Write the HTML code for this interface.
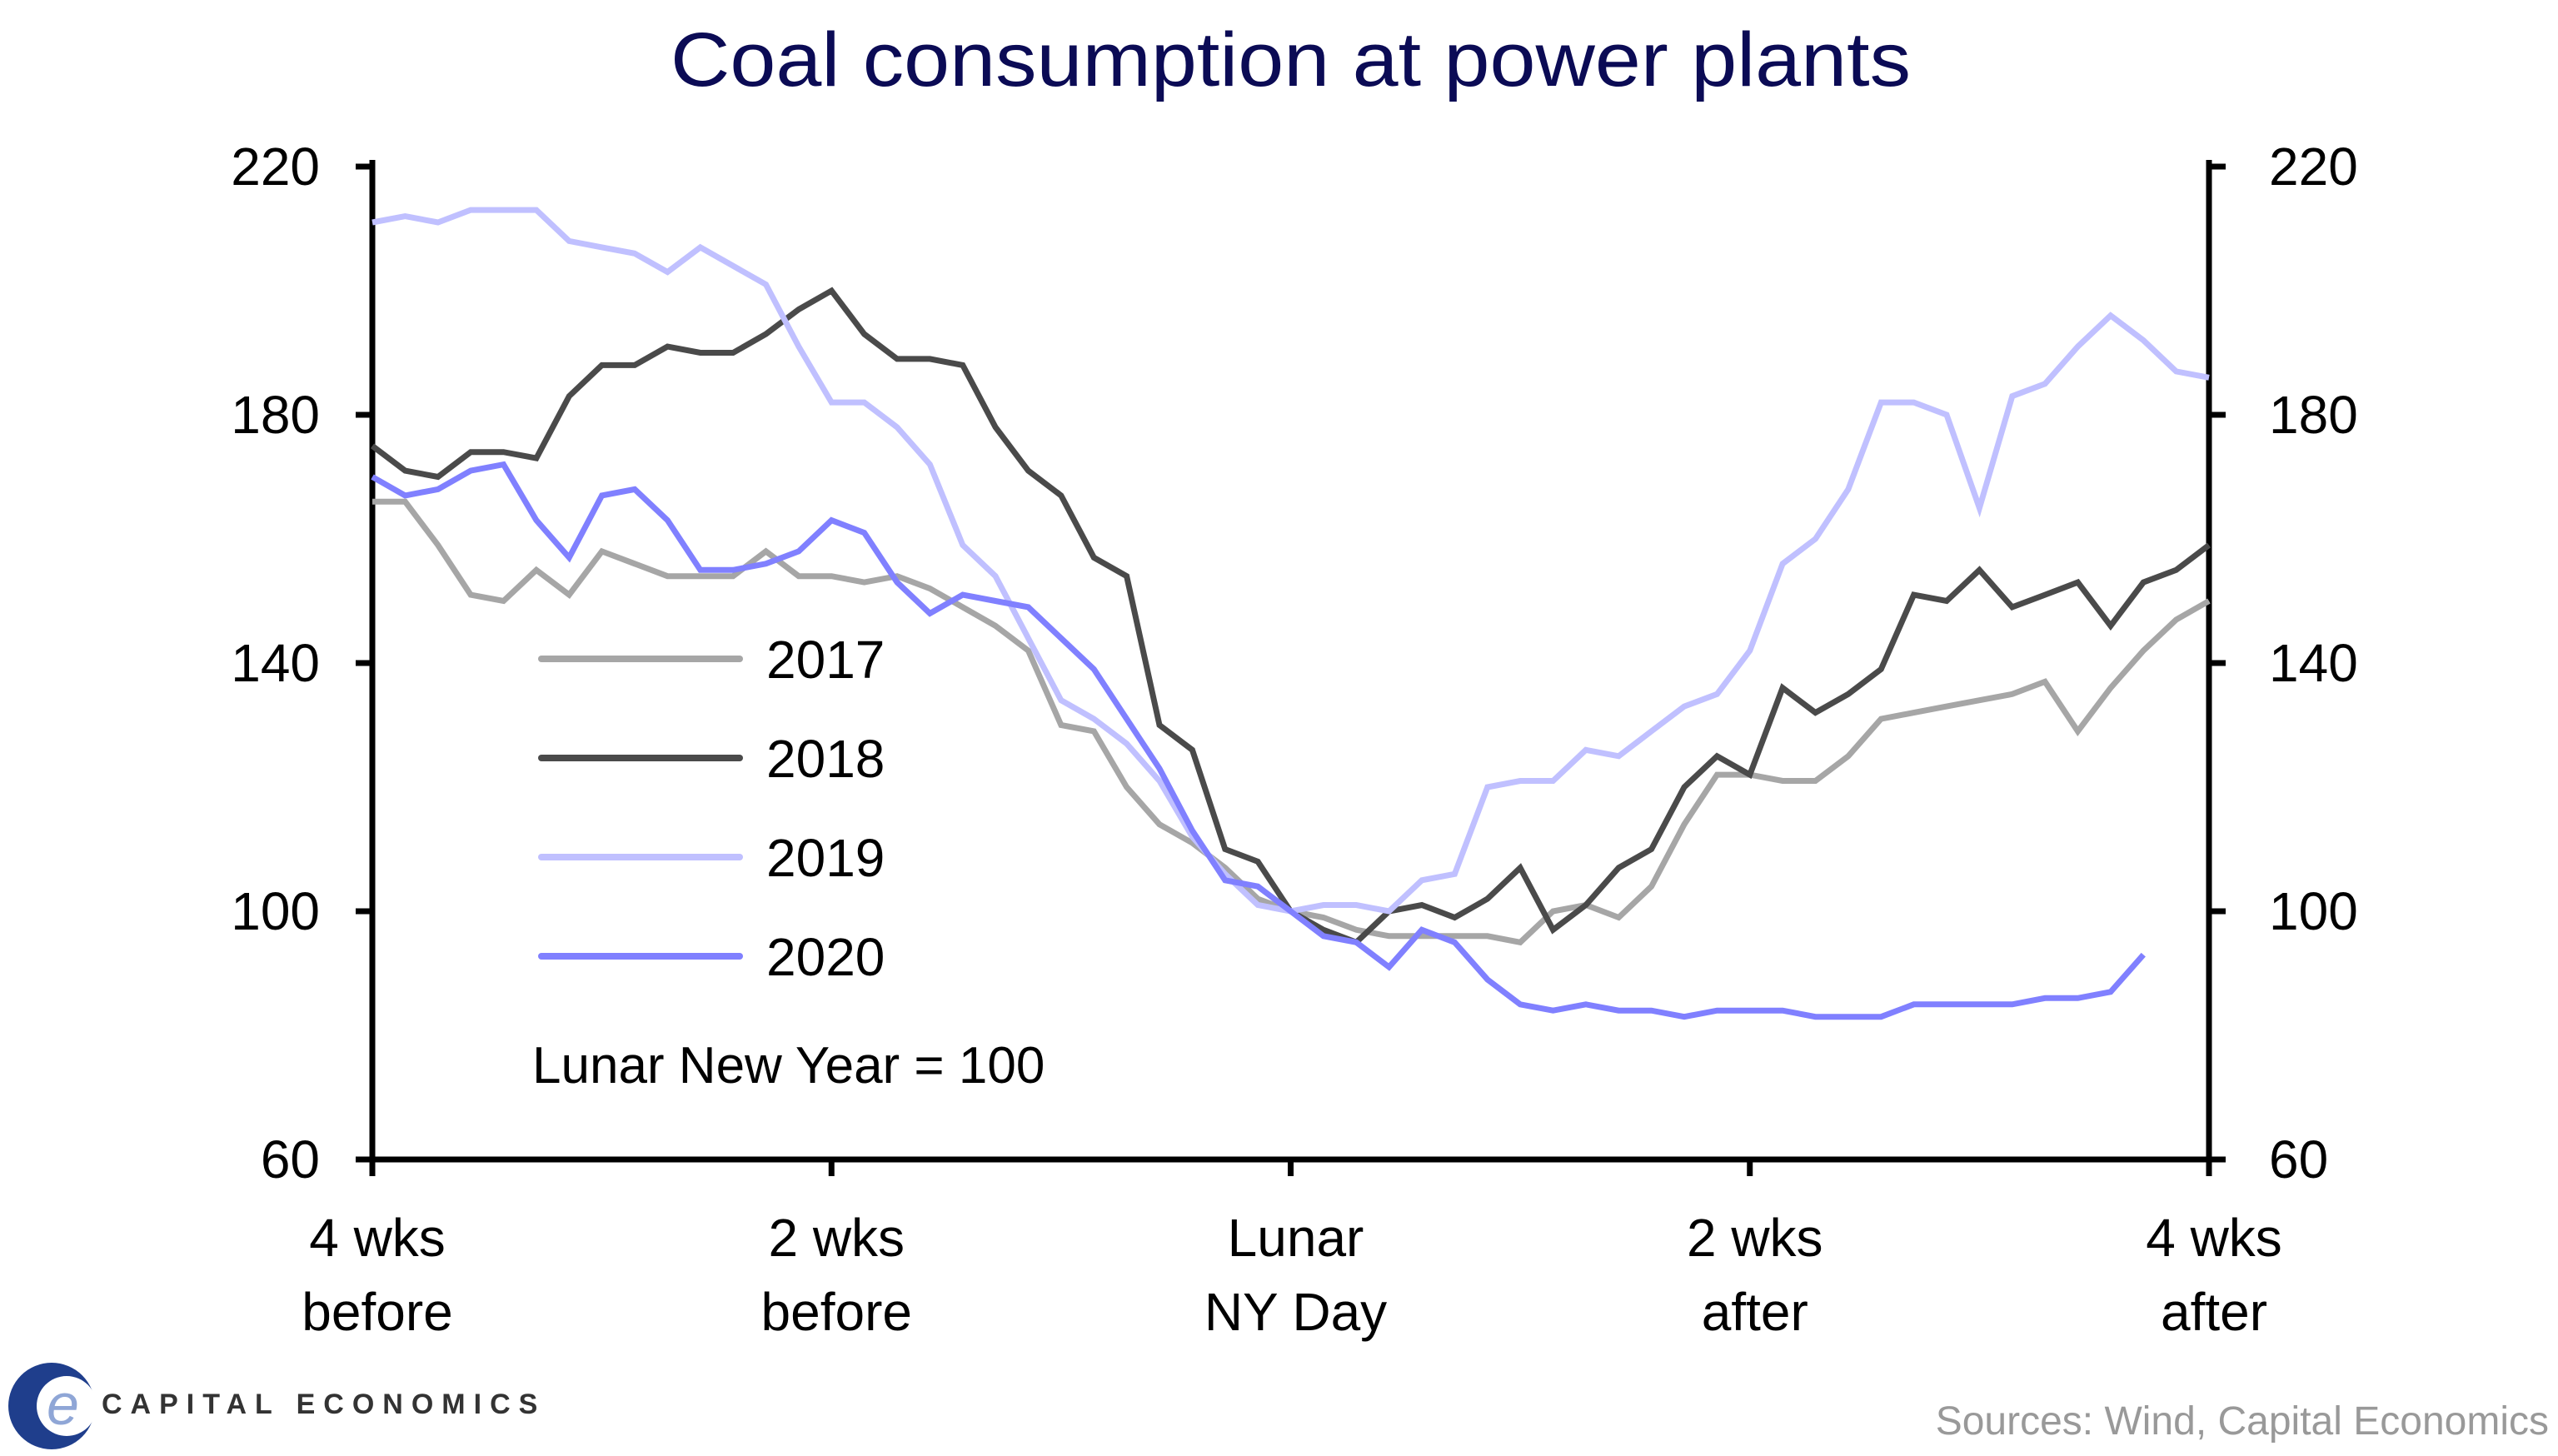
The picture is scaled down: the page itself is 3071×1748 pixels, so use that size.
<!DOCTYPE html>
<html><head><meta charset="utf-8"><style>
html,body{margin:0;padding:0;background:#fff;}
svg{display:block;font-family:"Liberation Sans",sans-serif;}
</style></head><body>
<svg id="chart" width="3071" height="1748" viewBox="0 0 3071 1748">
<text x="805" y="103" textLength="1489" lengthAdjust="spacingAndGlyphs" font-size="92" fill="#0b0b55">Coal consumption at power plants</text>
<g id="grid"></g>
<g id="series"></g>
<g id="legend"></g>
<text x="639" y="1300" font-size="62" fill="#000">Lunar  New Year = 100</text>
<g>
<circle cx="62" cy="1688" r="52" fill="#1f3e8c"/>
<circle cx="80" cy="1688" r="36" fill="#fff"/>
<text x="56" y="1710" font-size="70" font-style="italic" fill="#8fa6d6">e</text>
<text x="122" y="1697" font-size="34" font-weight="bold" letter-spacing="10" fill="#333">CAPITAL ECONOMICS</text>
</g>
<text x="3060" y="1722" text-anchor="end" font-size="48" fill="#999">Sources: Wind, Capital Economics</text>
</svg>
<script>
const days = Array.from({length:57},(_,i)=>i-28);
const s2017=[166,166,159,151,150,155,151,158,156,154,154,154,158,154,154,153,154,152,149,146,142,130,129,120,114,111,107,102,100,99,97,96,96,96,96,95,100,101,99,104,114,122,122,121,121,125,131,132,133,134,135,137,129,136,142,147,150];
const s2018=[175,171,170,174,174,173,183,188,188,191,190,190,193,197,200,193,189,189,188,178,171,167,157,154,130,126,110,108,100,97,95,100,101,99,102,107,97,101,107,110,120,125,122,136,132,135,139,151,150,155,149,151,153,146,153,155,159];
const s2019=[211,212,211,213,213,213,208,207,206,203,207,204,201,191,182,182,178,172,159,154,144,134,131,127,121,112,106,101,100,101,101,100,105,106,120,121,121,126,125,129,133,135,142,156,160,168,182,182,180,165,183,185,191,196,192,187,186];
const s2020=[170,167,168,171,172,163,157,167,168,163,155,155,156,158,163,161,153,148,151,150,149,144,139,131,123,113,105,104,100,96,95,91,97,95,89,85,84,85,84,84,83,84,84,84,83,83,83,85,85,85,85,86,86,87,93];
const yTicks=[60,100,140,180,220];
const xTickDays=[-28,-14,0,14,28];
const xTickLines=[["4 wks","before"],["2 wks","before"],["Lunar","NY Day"],["2 wks","after"],["4 wks","after"]];
const seriesNames=["2017","2018","2019","2020"];
const seriesData=[s2017,s2018,s2019,s2020];
const colors=["#a6a6a6","#4a4a4a","#c0c0ff","#8080ff"];

const X0=447,X1=2652,Y0=1392,Y1=200;
const xs=d=>X0+(d+28)/56*(X1-X0);
const ys=v=>Y0-(v-60)/160*(Y0-Y1);
const NS="http://www.w3.org/2000/svg";
function mk(tag,attrs,parent){const e=document.createElementNS(NS,tag);for(const k in attrs)e.setAttribute(k,attrs[k]);parent.appendChild(e);return e;}
const g=document.getElementById('grid');
let e;
e=mk('line',{x1:X0,y1:Y1-8,x2:X0,y2:Y0+3,stroke:'#000','stroke-width':7},g);


e=mk('line',{x1:X1,y1:Y1-8,x2:X1,y2:Y0+3,stroke:'#000','stroke-width':7},g);


e=mk('line',{x1:X0-3,y1:Y0,x2:X1+3,y2:Y0,stroke:'#000','stroke-width':7},g);


yTicks.forEach(v=>{
  const y=ys(v);
  mk('line',{x1:X0-20,y1:y,x2:X0,y2:y,stroke:'#000','stroke-width':7},g);
  mk('line',{x1:X1,y1:y,x2:X1+20,y2:y,stroke:'#000','stroke-width':7},g);
  let t=mk('text',{x:384,y:y+22,'text-anchor':'end','font-size':64},g);t.textContent=v;
  
  
  t=mk('text',{x:2724,y:y+22,'font-size':64},g);t.textContent=v;
  
  
});
xTickDays.forEach((d,i)=>{
  const x=xs(d);
  mk('line',{x1:x,y1:Y0,x2:x,y2:Y0+20,stroke:'#000','stroke-width':7},g);
  xTickLines[i].forEach((s,j)=>{
    const t=mk('text',{x:x+6,y:1508+j*89,'text-anchor':'middle','font-size':64},g);t.textContent=s;
    
    
  });
});
const sg=document.getElementById('series');
seriesData.forEach((arr,k)=>{
  const pts=arr.map((v,i)=>xs(days[i]).toFixed(1)+','+ys(v).toFixed(1)).join(' ');
  const p=mk('polyline',{points:pts,fill:'none',stroke:colors[k],'stroke-width':7,'stroke-linejoin':'miter'},sg);
  
  
});
const lg=document.getElementById('legend');
seriesNames.forEach((n,k)=>{
  const y=791+k*119;
  const l=mk('line',{x1:650,y1:y,x2:888,y2:y,stroke:colors[k],'stroke-width':8,'stroke-linecap':'round'},lg);
  
  
  const t=mk('text',{x:920,y:y+23,'font-size':64},lg);t.textContent=n;
  
  
});
</script>
</body></html>
